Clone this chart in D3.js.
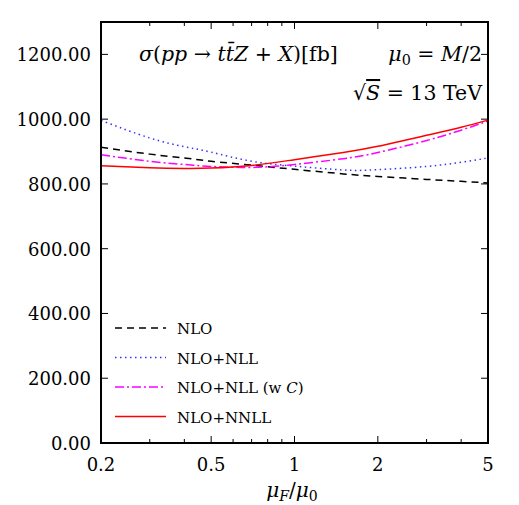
<!DOCTYPE html>
<html>
<head>
<meta charset="utf-8">
<script src="https://cdn.jsdelivr.net/npm/d3@7"></script>
<style>
  body { margin: 0; background: #fff; }
  svg text { font-family: "DejaVu Serif", serif; fill: #000; }
</style>
</head>
<body>
<div id="chart"></div>
<script>
// scale ratio mu_F / mu_0
var muValues = [0.2, 0.3, 0.4, 0.5, 0.7, 1, 1.5, 2, 3, 4, 5];
// cross sections in fb
var nlo      = [913, 892, 880, 870, 858, 845, 831, 823, 814, 808, 803];
var nloNll   = [996, 942, 915, 898, 870, 855, 843, 844, 854, 867, 880];
var nloNllC  = [890, 870, 860, 854, 851, 860, 878, 897, 934, 966, 994];
var nloNnll  = [856, 850, 848, 849, 857, 875, 897, 916, 950, 975, 997];

var seriesNames = ["NLO", "NLO+NLL", "NLO+NLL (w C)", "NLO+NNLL"];
var yTicks = [0, 200, 400, 600, 800, 1000, 1200];
var xTicks = [0.2, 0.5, 1, 2, 5];
var xMinorTicks = [0.3, 0.4, 0.6, 0.7, 0.8, 0.9, 3, 4];

function init() {
    var w = 519, h = 505;
    var margin = {left: 101, right: 31, top: 22, bottom: 62};

    var svg = d3.select("#chart").append("svg")
        .attr("width", w)
        .attr("height", h);

    var x = d3.scaleLog().domain([0.2, 5]).range([margin.left, w - margin.right]);
    var y = d3.scaleLinear().domain([0, 1300]).range([h - margin.bottom, margin.top]);

    var x0 = x.range()[0], x1 = x.range()[1];
    var y0 = y.range()[0], y1 = y.range()[1];

    // ticks, all pointing inward
    var major = 7, minor = 4;
    var g = svg.append("g").attr("stroke", "#000").attr("stroke-width", 1);
    yTicks.forEach(function(t) {
        g.append("line").attr("x1", x0).attr("x2", x0 + major).attr("y1", y(t)).attr("y2", y(t));
        g.append("line").attr("x1", x1).attr("x2", x1 - major).attr("y1", y(t)).attr("y2", y(t));
    });
    xTicks.forEach(function(t) {
        g.append("line").attr("x1", x(t)).attr("x2", x(t)).attr("y1", y0).attr("y2", y0 - major);
        g.append("line").attr("x1", x(t)).attr("x2", x(t)).attr("y1", y1).attr("y2", y1 + major);
    });
    xMinorTicks.forEach(function(t) {
        g.append("line").attr("x1", x(t)).attr("x2", x(t)).attr("y1", y0).attr("y2", y0 - minor);
        g.append("line").attr("x1", x(t)).attr("x2", x(t)).attr("y1", y1).attr("y2", y1 + minor);
    });

    // tick labels
    svg.selectAll(".ylab").data(yTicks).enter().append("text")
        .attr("x", x0 - 10)
        .attr("y", function(d) { return y(d) + 7; })
        .attr("text-anchor", "end")
        .style("font-size", "18px")
        .text(function(d) { return d3.format(".2f")(d); });

    svg.selectAll(".xlab").data(xTicks).enter().append("text")
        .attr("x", function(d) { return x(d); })
        .attr("y", y0 + 28)
        .attr("text-anchor", "middle")
        .style("font-size", "18px")
        .text(function(d) { return d; });

    // curves
    var all = [nlo, nloNll, nloNllC, nloNnll];
    var colors = ["#000000", "#3333ff", "#ff00ff", "#ff0000"];
    var dashes = ["7,5", "1.5,3.5", "9,3,2,3", null];

    var line = d3.line()
        .x(function(d, i) { return x(muValues[i]); })
        .y(function(d) { return y(d); })
        .curve(d3.curveNatural);

    all.forEach(function(s, i) {
        svg.append("path")
            .attr("d", line(s))
            .attr("fill", "none")
            .attr("stroke", colors[i])
            .attr("stroke-width", 1.5)
            .attr("stroke-dasharray", dashes[i]);
    });

    // frame
    svg.append("rect")
        .attr("x", x0).attr("y", y1)
        .attr("width", x1 - x0).attr("height", y0 - y1)
        .attr("fill", "none").attr("stroke", "#000").attr("stroke-width", 2);

    // helper for mixed italic/upright text
    function rich(parent, px, py, size, parts, anchor) {
        var t = parent.append("text").attr("x", px).attr("y", py)
            .style("font-size", size + "px")
            .attr("text-anchor", anchor || "start");
        parts.forEach(function(p) {
            var ts = t.append("tspan").text(p.t);
            if (p.i) ts.style("font-style", "italic");
            if (p.sub) ts.attr("dy", p.sub).style("font-size", (size * 0.7) + "px");
            if (p.up) ts.attr("dy", p.up);
            if (p.o) ts.style("text-decoration", "overline");
        });
        return t;
    }

    rich(svg, 139, 61, 20.5, [
        {t: "σ", i: 1}, {t: "("}, {t: "pp", i: 1}, {t: " → "}, {t: "t", i: 1},
        {t: "t\u0304", i: 1}, {t: "Z", i: 1}, {t: " + "}, {t: "X", i: 1}, {t: ")[fb]"}
    ]);
    rich(svg, 482, 61, 20.5, [
        {t: "μ", i: 1}, {t: "0", sub: 4}, {t: " = ", up: -4}, {t: "M", i: 1}, {t: "/2"}
    ], "end");
    rich(svg, 482, 100, 20.5, [
        {t: "√"}, {t: "S", i: 1, o: 1}, {t: " = 13 TeV"}
    ], "end");

    // x-axis title
    rich(svg, 292, 497, 20, [
        {t: "μ", i: 1}, {t: "F", i: 1, sub: 4}, {t: "/", up: -4}, {t: "μ", i: 1}, {t: "0", sub: 4}
    ], "middle");

    // legend
    var leg = svg.append("g");
    seriesNames.forEach(function(name, i) {
        var ly = 328 + i * 29.5;
        leg.append("line")
            .attr("x1", 115).attr("x2", 166).attr("y1", ly).attr("y2", ly)
            .attr("stroke", colors[i]).attr("stroke-width", 1.5)
            .attr("stroke-dasharray", dashes[i]);
        if (i === 2) {
            rich(leg, 177, ly + 6, 15, [{t: "NLO+NLL (w "}, {t: "C", i: 1}, {t: ")"}]);
        } else {
            leg.append("text").attr("x", 177).attr("y", ly + 6)
                .style("font-size", "15px").text(name);
        }
    });
}

window.onload = init;
</script>
</body>
</html>
